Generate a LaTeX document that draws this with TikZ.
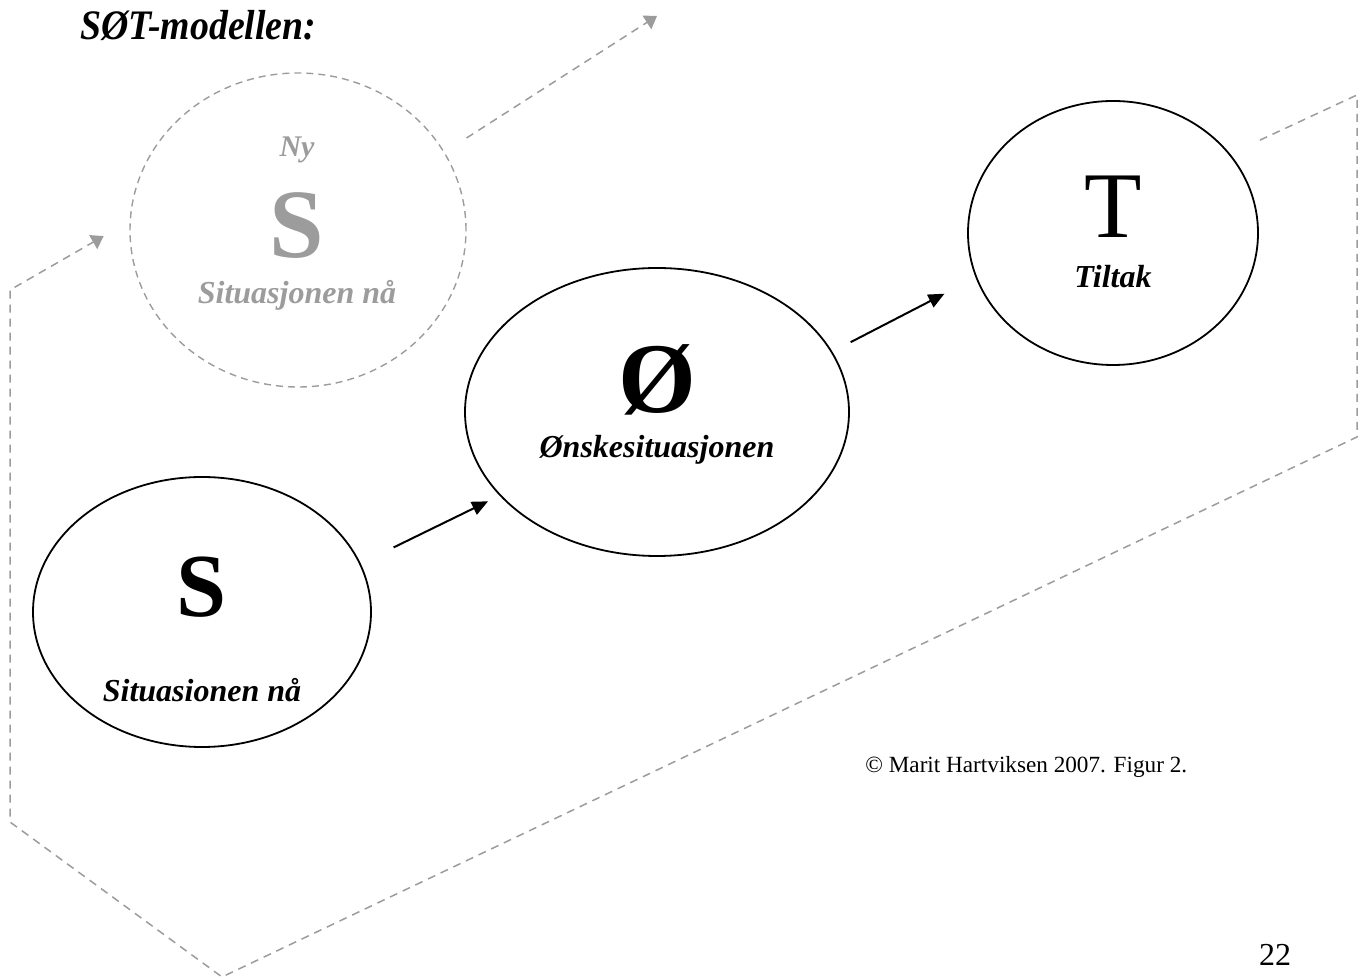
\documentclass[tikz,border=0pt]{standalone}
\usepackage{fontspec}
\setmainfont{Liberation Serif}
\usetikzlibrary{shapes.geometric,arrows.meta,positioning}

\definecolor{soft}{HTML}{9C9C9C}

\tikzset{
  state/.style={draw, ellipse, line width=0.9pt, inner sep=0pt},
  ghost/.style={draw=soft, ellipse, dash pattern=on 3.5pt off 2.5pt, line width=0.7pt, inner sep=0pt},
  letter/.style={font=\bfseries\fontsize{45}{45}\selectfont},
  caption/.style={font=\bfseries\itshape\fontsize{16}{16}\selectfont},
  flow/.style={-{Triangle[length=8pt,width=7pt]}, line width=1pt},
  loop/.style={soft, dash pattern=on 4pt off 3pt, line width=0.75pt,
    -{Triangle[length=6pt,width=8pt]}},
}

\begin{document}
\begin{tikzpicture}[x=0.5pt, y=-0.5pt]
  \useasboundingbox (0,0) rectangle (1360,977);

  % Title
  \node[font=\bfseries\itshape\fontsize{21}{21}\selectfont, anchor=west, inner sep=0pt, xscale=0.9] (title) at (80,26) {SØT-modellen:};

  % Define nodes
  \node[state, minimum width=169pt, minimum height=135pt] (S) at (202,612) {};
  \node[state, minimum width=192pt, minimum height=144pt] (O) at (657,412) {};
  \node[state, minimum width=145pt, minimum height=132pt] (T) at (1113,233) {};
  \node[ghost, minimum width=168pt, minimum height=157pt] (N) at (298,230) {};

  % Texts in the nodes
  \node[letter] (s) at (202,587) {S};
  \node[caption] (s-txt) at (202,690) {Situasionen nå};
  \node[letter, font=\bfseries\fontsize{50}{50}\selectfont] (o) at (657,380) {Ø};
  \node[caption] (o-txt) at (657,450) {Ønskesituasjonen};
  \node[font=\fontsize{47}{47}\selectfont] (t) at (1113,207) {T};
  \node[caption] (t-txt) at (1113,277) {Tiltak};
  \node[caption, soft, font=\bfseries\itshape\fontsize{15}{15}\selectfont] (n-top) at (297,150) {Ny};
  \node[letter, soft, font=\bfseries\fontsize{49}{49}\selectfont] (n) at (297,226) {S};
  \node[caption, soft] (n-txt) at (297,295) {Situasjonen nå};

  \node[font=\fontsize{11.6}{11.6}\selectfont, anchor=west, inner sep=0pt] (credit) at (865,767) {© Marit Hartviksen 2007. Figur 2.};
  \node[font=\fontsize{16}{16}\selectfont] (page) at (1275,955) {22};

  \coordinate (out) at (657,16);

  % Connect the nodes
  \draw[flow, shorten <=18.3pt, shorten >=6.4pt] (S.17) -- (O.208.5);
  \draw[flow, shorten <=10.3pt, shorten >=17.5pt] (O.19.6) -- (T.198);
  \draw[loop, shorten <=13pt] (N.28.6) -- (out);
  \draw[loop, shorten <=16.3pt, shorten >=15pt] (T.34.6) -- (1357,95) -- (1357,437)
    -- (222,977) -- (10,822) -- (10,290) -- (N.177.7);
\end{tikzpicture}
\end{document}
